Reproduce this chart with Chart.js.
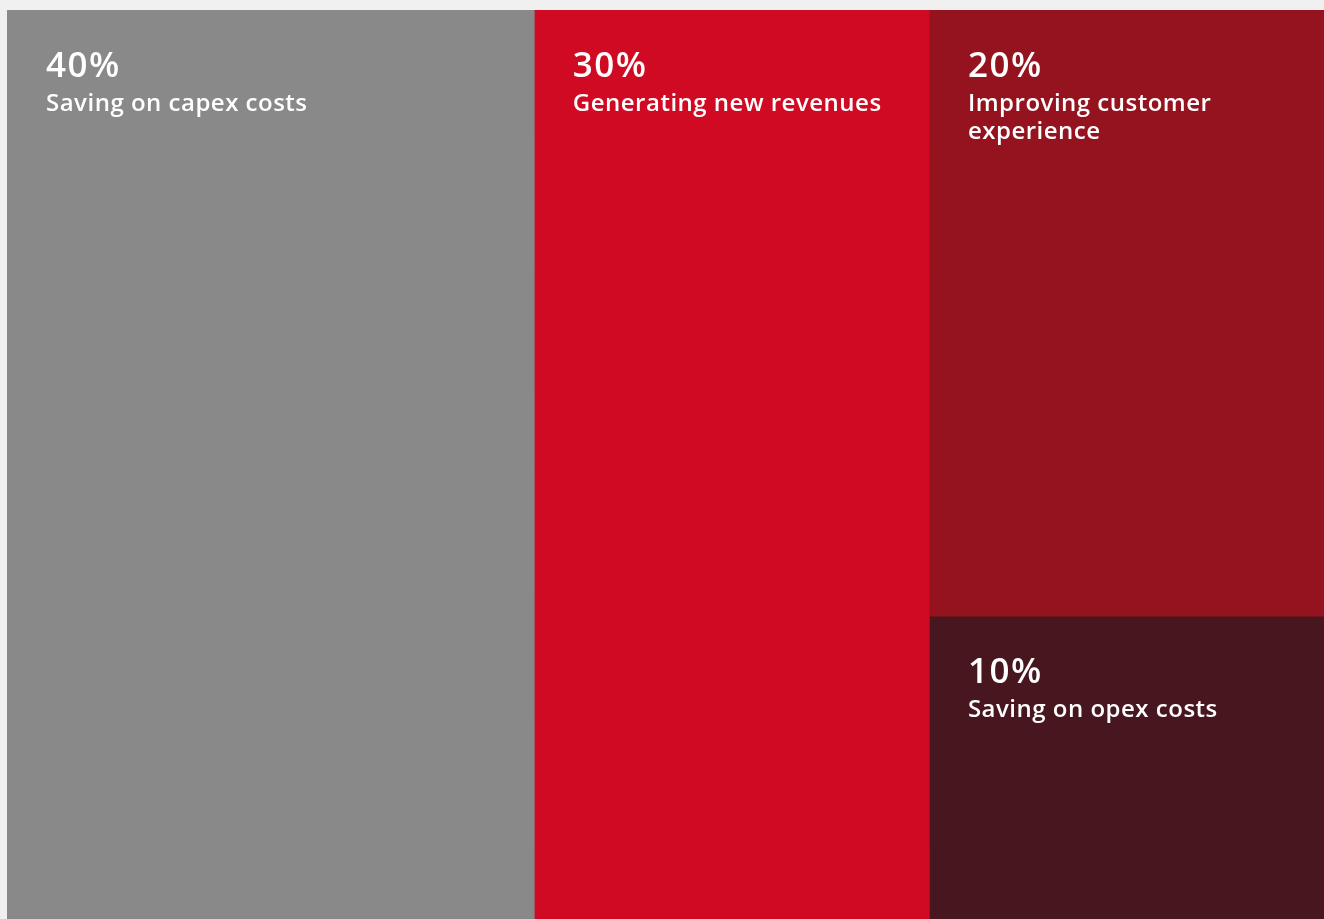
<!DOCTYPE html>
<html>
<head>
<meta charset="utf-8">
<script src="https://cdn.jsdelivr.net/npm/chart.js@4.4.0/dist/chart.umd.min.js"></script>
<style>
  html, body { margin: 0; padding: 0; background: #f0f0f0; }
  #wrap { position: absolute; left: 7px; top: 10px; width: 1317px; height: 909px; }
</style>
</head>
<body>
<div id="wrap"><canvas id="chart"></canvas></div>
<script>
const categories = ["Saving on capex costs", "Generating new revenues", "Improving customer experience", "Saving on opex costs"];
const shares = [40, 30, 20, 10];
const colors = ["#898989", "#d10a24", "#95131e", "#48161e"];
// tiles that share a column, stacked top to bottom
const columns = [[0], [1], [2, 3]];

// slice-and-dice layout in percent units: columns across, tiles down
const total = shares.reduce((a, b) => a + b, 0);
const tiles = [];
let xPos = 0;
columns.forEach(col => {
  const colSum = col.reduce((s, i) => s + shares[i], 0);
  const w = colSum / total * 100;
  let yPos = 0;
  col.forEach(i => {
    const h = shares[i] / colSum * 100;
    tiles[i] = { x0: xPos, x1: xPos + w, y0: yPos, y1: yPos + h };
    yPos += h;
  });
  xPos += w;
});

const datasets = categories.map((name, i) => {
  const t = tiles[i];
  return {
    label: name,
    value: shares[i],
    data: [
      { x: t.x0, y: t.y0 }, { x: t.x1, y: t.y0 },
      { x: t.x1, y: t.y1 }, { x: t.x0, y: t.y1 }, { x: t.x0, y: t.y0 }
    ],
    showLine: true,
    fill: "shape",
    backgroundColor: colors[i],
    borderColor: colors[i],
    borderWidth: 1,
    pointRadius: 0,
    pointHoverRadius: 0,
    tension: 0
  };
});

const tileLabels = {
  id: "tileLabels",
  afterDatasetsDraw(chart) {
    const { ctx, scales: { x, y } } = chart;
    ctx.save();
    ctx.fillStyle = "#ffffff";
    ctx.textBaseline = "alphabetic";
    chart.data.datasets.forEach(ds => {
      const left = x.getPixelForValue(ds.data[0].x) + 39;
      const right = x.getPixelForValue(ds.data[1].x) - 20;
      const top = y.getPixelForValue(ds.data[0].y);
      ctx.font = "600 35px 'Open Sans'";
      ctx.letterSpacing = "1.5px";
      ctx.fillText(ds.value + "%", left, top + 67);
      ctx.font = "600 24px 'Open Sans'";
      ctx.letterSpacing = "0.5px";
      // wrap the category name to the tile width
      const words = ds.label.split(" ");
      const lines = [];
      let line = "";
      words.forEach(w => {
        const test = line ? line + " " + w : w;
        if (line && ctx.measureText(test).width > right - left) {
          lines.push(line);
          line = w;
        } else {
          line = test;
        }
      });
      lines.push(line);
      lines.forEach((l, k) => ctx.fillText(l, left, top + 101 + k * 28));
    });
    ctx.restore();
  }
};

new Chart(document.getElementById("chart"), {
  type: "scatter",
  data: { datasets },
  options: {
    responsive: true,
    maintainAspectRatio: false,
    animation: false,
    layout: { padding: 0 },
    scales: {
      x: { type: "linear", min: 0, max: 100, display: false },
      y: { type: "linear", min: 0, max: 100, reverse: true, display: false }
    },
    plugins: {
      legend: { display: false },
      tooltip: { enabled: false }
    }
  },
  plugins: [tileLabels]
});
</script>
</body>
</html>
